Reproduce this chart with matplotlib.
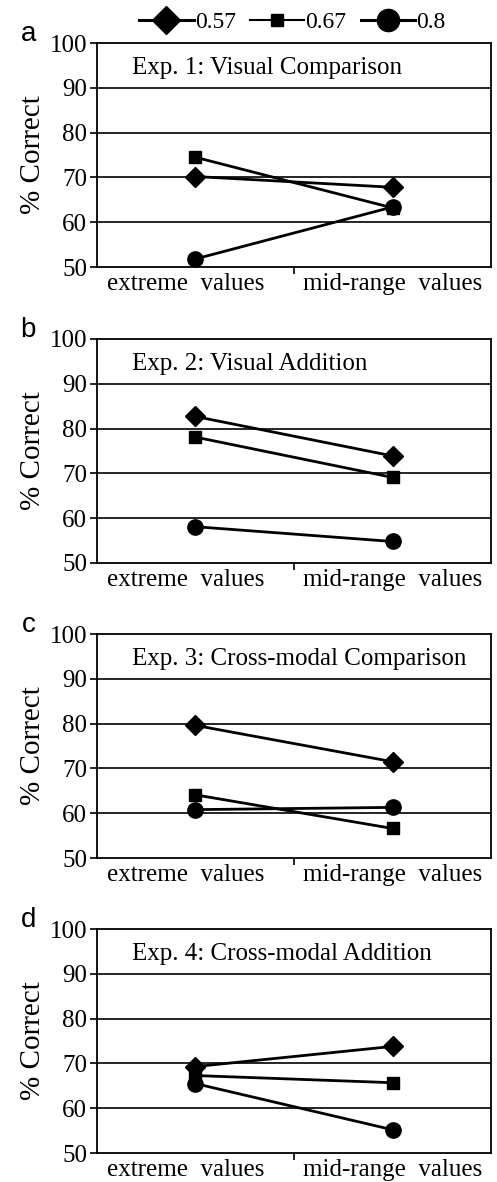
import matplotlib
matplotlib.use("Agg")
import matplotlib.pyplot as plt
from matplotlib.lines import Line2D

plt.rcParams["font.family"] = ["Liberation Serif", "DejaVu Serif"]

categories = ["extreme  values", "mid-range  values"]
series_names = ["0.57", "0.67", "0.8"]
markers = ["D", "s", "o"]
marker_sizes = [10, 9, 11]

panel_letters = ["a", "b", "c", "d"]
titles = ["Exp. 1: Visual Comparison",
          "Exp. 2: Visual Addition",
          "Exp. 3: Cross-modal Comparison",
          "Exp. 4: Cross-modal Addition"]

# % correct per panel, per series: [extreme, mid-range]
exp1 = [[70.2, 67.8], [74.5, 63.2], [51.8, 63.4]]
exp2 = [[82.7, 73.9], [78.1, 69.1], [58.1, 54.8]]
exp3 = [[79.6, 71.5], [64.1, 56.6], [60.8, 61.3]]
exp4 = [[69.3, 73.8], [67.3, 65.7], [65.5, 55.2]]
panels = [exp1, exp2, exp3, exp4]

fig = plt.figure(figsize=(4.97, 11.82), dpi=100)

bottoms = [0.7741, 0.5237, 0.2741, 0.0245]
for i, data in enumerate(panels):
    ax = fig.add_axes([0.195, bottoms[i], 0.793, 0.1895])
    for j, vals in enumerate(data):
        ax.plot([0, 1], vals, color="black", lw=2, marker=markers[j],
                markersize=marker_sizes[j], markerfacecolor="black",
                markeredgecolor="black", zorder=3)
    ax.set_xlim(-0.5, 1.5)
    ax.set_ylim(50, 100)
    ax.set_yticks([50, 60, 70, 80, 90, 100])
    for y in [60, 70, 80, 90]:
        ax.axhline(y, color="black", lw=1.2, zorder=1)
    ax.set_xticks([-0.05, 1])
    ax.set_xticklabels(categories, fontsize=18)
    ax.set_xticks([0.5], minor=True)
    ax.tick_params(axis="x", which="major", length=0, pad=4)
    ax.tick_params(axis="x", which="minor", length=5, width=1.2)
    ax.tick_params(axis="y", labelsize=18, length=5, width=1.2, pad=2)
    for sp in ax.spines.values():
        sp.set_linewidth(1.3)
    ax.set_ylabel("% Correct", fontsize=21, labelpad=3)
    ax.text(0.089, 0.89, titles[i], transform=ax.transAxes, fontsize=18,
            va="center", ha="left")
    ax.text(-0.155, 1.04, panel_letters[i], transform=ax.transAxes,
            fontsize=20, family="Liberation Sans", va="center", ha="right")

handles = [Line2D([], [], color="black", lw=2.2, marker="D", markersize=14),
           Line2D([], [], color="black", lw=1.5, marker="s", markersize=9),
           Line2D([], [], color="black", lw=2.2, marker="o", markersize=16)]
fig.legend(handles, series_names, loc="center", bbox_to_anchor=(0.588, 0.981),
           ncol=3, frameon=False, fontsize=17, handlelength=2.3,
           handletextpad=0.05, columnspacing=0.6, borderpad=0)

fig.savefig("out.png", dpi=100)
